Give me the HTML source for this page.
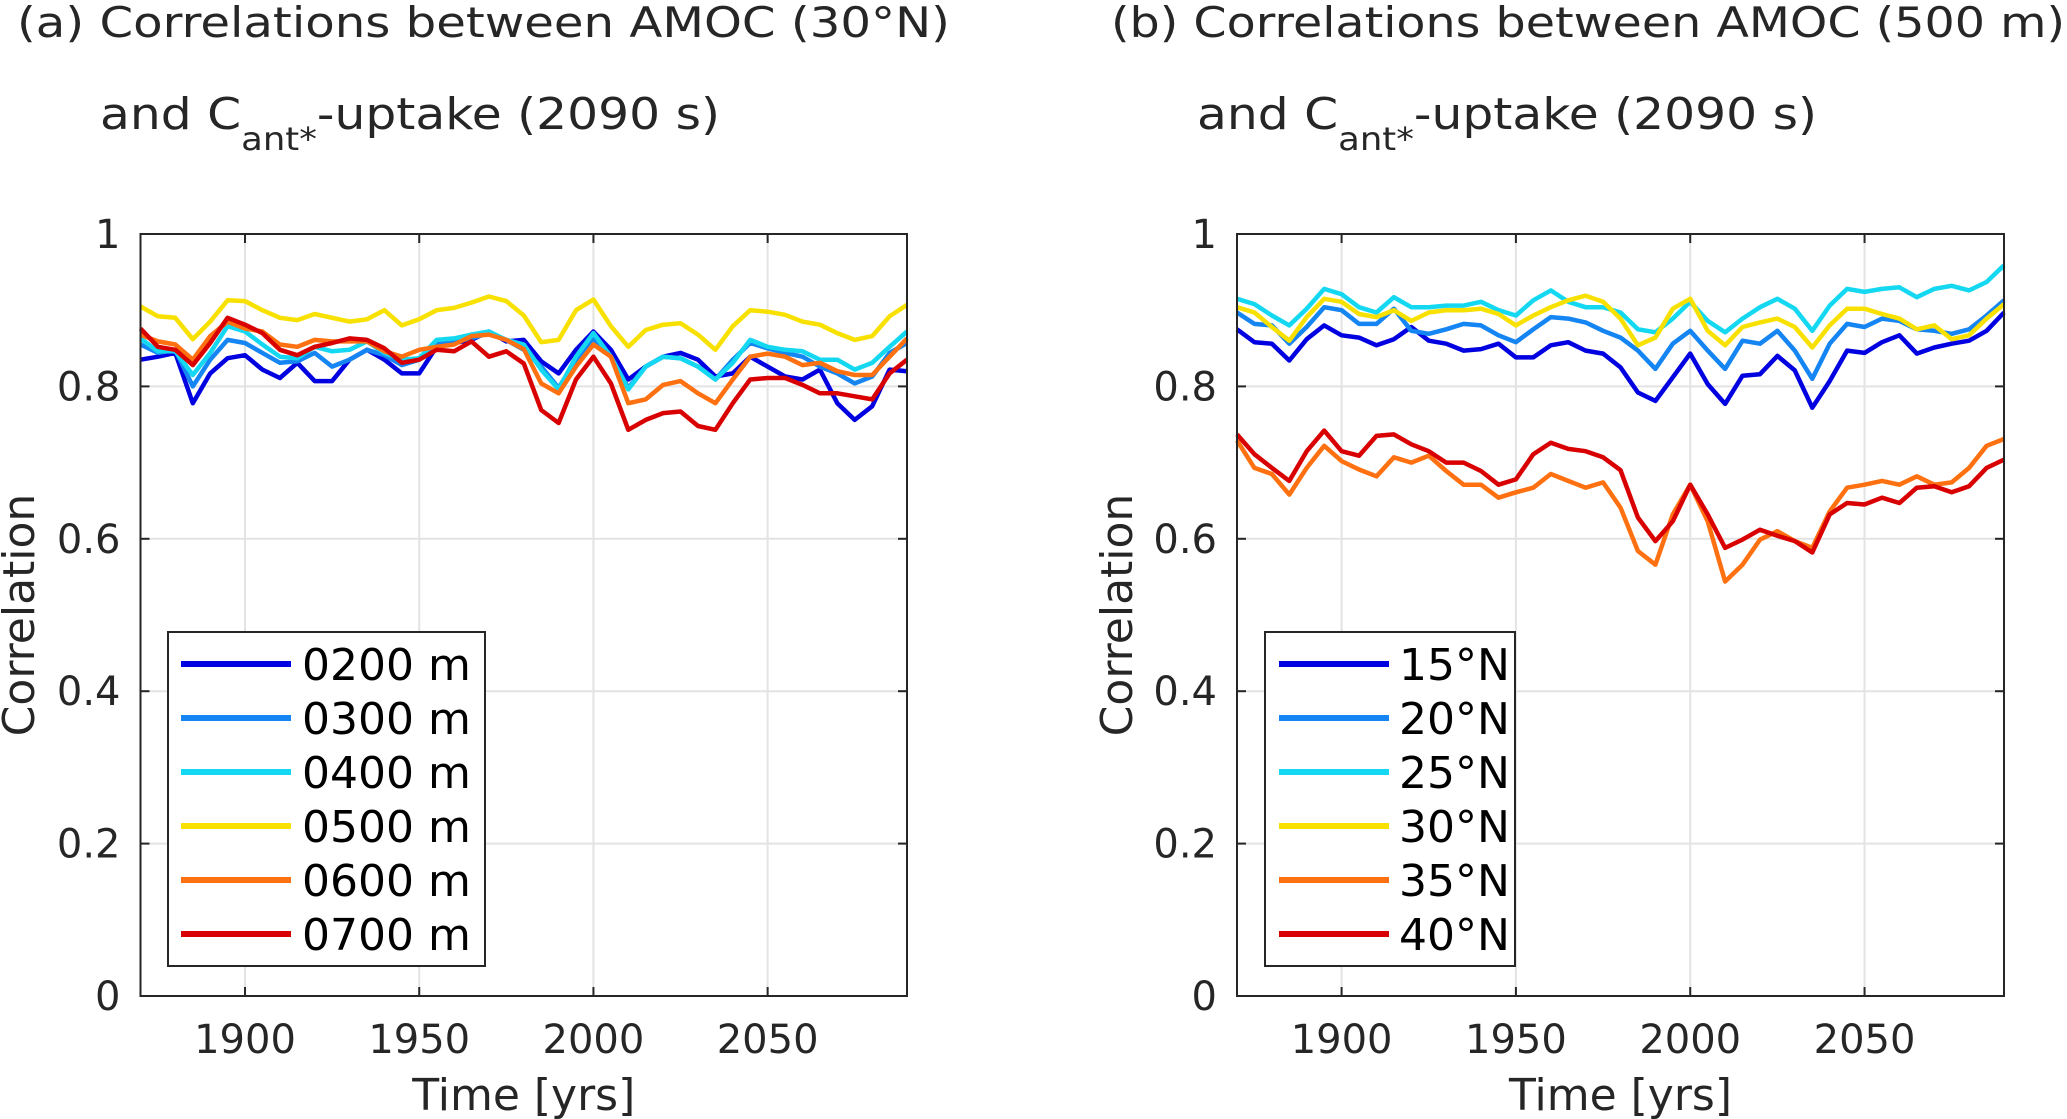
<!DOCTYPE html>
<html><head><meta charset="utf-8"><title>AMOC correlations</title>
<style>
html,body{margin:0;padding:0;background:#fff;}
svg{display:block;font-family:"DejaVu Sans","Liberation Sans",sans-serif;}
</style></head>
<body>
<svg id="fig" width="2067" height="1119" viewBox="0 0 2067 1119" xmlns="http://www.w3.org/2000/svg">
<rect width="2067" height="1119" fill="#fff"/>
<g fill="#262626" font-size="42">
<text x="17" y="37" textLength="933" lengthAdjust="spacingAndGlyphs">(a) Correlations between AMOC (30°N)</text>
<text x="100" y="129" font-size="44" textLength="620" lengthAdjust="spacingAndGlyphs">and C<tspan font-size="32" dy="21">ant*</tspan><tspan dy="-21">-uptake (2090 s)</tspan></text>
</g>
<g fill="#262626" font-size="42">
<text x="1111" y="37" textLength="954" lengthAdjust="spacingAndGlyphs">(b) Correlations between AMOC (500 m)</text>
<text x="1197" y="129" font-size="44" textLength="620" lengthAdjust="spacingAndGlyphs">and C<tspan font-size="32" dy="21">ant*</tspan><tspan dy="-21">-uptake (2090 s)</tspan></text>
</g>
<g id="panelA"></g>
<g id="panelB"></g>
</svg>
<script>
const years = [1870,1875,1880,1885,1890,1895,1900,1905,1910,1915,1920,1925,1930,1935,1940,1945,1950,1955,1960,1965,1970,1975,1980,1985,1990,1995,2000,2005,2010,2015,2020,2025,2030,2035,2040,2045,2050,2055,2060,2065,2070,2075,2080,2085,2090];
const xTicks = [1900,1950,2000,2050];
const yTicks = [0,0.2,0.4,0.6,0.8,1];
const yTickLabels = ["0","0.2","0.4","0.6","0.8","1"];
const colors = ["#0000e0","#1485f2","#14d8f2","#f8e000","#ff7010","#d80000"];
const labelsA = ["0200 m","0300 m","0400 m","0500 m","0600 m","0700 m"];
const labelsB = ["15°N","20°N","25°N","30°N","35°N","40°N"];
const a200 = [.835,.839,.844,.778,.817,.837,.841,.822,.811,.831,.807,.807,.835,.848,.835,.817,.817,.852,.857,.861,.872,.859,.861,.833,.817,.848,.872,.848,.809,.826,.839,.844,.835,.813,.817,.839,.826,.813,.809,.822,.778,.756,.774,.822,.820];
const a300 = [.855,.844,.848,.800,.835,.861,.857,.844,.831,.833,.844,.826,.835,.848,.841,.828,.835,.855,.859,.863,.870,.861,.848,.826,.798,.835,.863,.839,.798,.826,.839,.837,.826,.809,.835,.857,.850,.844,.839,.826,.817,.804,.813,.844,.857];
const a400 = [.863,.846,.846,.815,.844,.879,.872,.855,.839,.837,.852,.846,.848,.859,.844,.835,.837,.861,.863,.868,.872,.861,.855,.822,.796,.839,.870,.839,.796,.826,.839,.837,.826,.809,.831,.861,.852,.848,.846,.835,.835,.822,.831,.852,.872];
const a500 = [.905,.892,.890,.862,.885,.913,.912,.900,.890,.887,.895,.890,.885,.888,.900,.880,.888,.900,.903,.910,.918,.912,.893,.858,.861,.900,.914,.879,.852,.874,.881,.883,.868,.848,.879,.900,.898,.894,.885,.881,.870,.861,.866,.892,.907];
const a600 = [.868,.859,.855,.835,.866,.885,.876,.872,.855,.852,.861,.859,.859,.859,.846,.839,.848,.852,.855,.866,.868,.861,.849,.804,.791,.826,.855,.839,.778,.783,.802,.807,.791,.778,.809,.839,.843,.839,.828,.831,.820,.815,.815,.839,.863];
const a700 = [.876,.852,.848,.828,.857,.890,.881,.870,.848,.841,.852,.857,.863,.861,.850,.831,.835,.848,.846,.859,.839,.846,.830,.769,.752,.809,.839,.804,.743,.756,.765,.767,.748,.743,.778,.809,.811,.811,.802,.791,.791,.787,.783,.817,.835];
const b15 = [.875,.858,.856,.834,.862,.880,.867,.864,.854,.862,.878,.860,.856,.847,.849,.856,.838,.838,.854,.858,.847,.843,.825,.792,.781,.812,.843,.803,.777,.814,.816,.840,.821,.772,.807,.847,.844,.858,.867,.843,.851,.856,.860,.873,.897];
const b20 = [.897,.882,.880,.856,.878,.904,.900,.882,.882,.902,.873,.869,.875,.882,.880,.867,.858,.875,.891,.889,.884,.873,.864,.847,.823,.856,.873,.847,.823,.860,.856,.873,.847,.810,.856,.882,.878,.889,.886,.875,.873,.869,.875,.893,.913];
const b25 = [.915,.908,.893,.880,.902,.928,.921,.904,.897,.917,.904,.904,.906,.906,.911,.900,.893,.913,.926,.911,.904,.904,.897,.875,.871,.889,.911,.886,.871,.889,.904,.915,.902,.873,.906,.928,.924,.928,.930,.917,.928,.932,.926,.937,.959];
const b30 = [.904,.897,.878,.860,.891,.915,.911,.895,.891,.900,.886,.897,.900,.900,.902,.895,.880,.893,.904,.913,.919,.911,.889,.854,.864,.902,.915,.873,.854,.878,.884,.889,.878,.851,.880,.902,.902,.895,.889,.875,.880,.862,.867,.889,.908];
const b35 = [.729,.693,.685,.658,.693,.722,.702,.691,.682,.707,.700,.709,.689,.671,.671,.654,.661,.667,.685,.676,.667,.674,.641,.584,.566,.632,.671,.623,.544,.566,.599,.610,.597,.588,.636,.667,.671,.676,.671,.682,.671,.674,.693,.722,.731];
const b40 = [.737,.711,.693,.676,.715,.742,.715,.709,.735,.737,.724,.715,.700,.700,.689,.671,.678,.711,.726,.718,.715,.707,.690,.628,.597,.623,.671,.632,.588,.599,.612,.604,.597,.582,.632,.647,.645,.654,.647,.667,.669,.661,.669,.693,.704];

const NS = "http://www.w3.org/2000/svg";
function mk(tag, attrs, parent){ const e=document.createElementNS(NS,tag); for(const k in attrs) e.setAttribute(k,attrs[k]); parent.appendChild(e); return e; }

function drawPanel(g, L, R, T, B, series, labels, leg, yLabX){
  const x = yr => L + (yr-1870)/(2090-1870)*(R-L);
  const y = v => B - v*(B-T);
  xTicks.forEach(t=>{
    const gl = mk('line',{x1:x(t),x2:x(t),y1:T,y2:B,stroke:'#e3e3e3','stroke-width':2},g);
    
    
  });
  yTicks.forEach(t=>{
    const gl = mk('line',{x1:L,x2:R,y1:y(t),y2:y(t),stroke:'#e3e3e3','stroke-width':2},g);
    
    
  });
  series.forEach((s,i)=>{
    const d = s.map((v,j)=>(j?'L':'M')+x(years[j]).toFixed(1)+' '+y(v).toFixed(1)).join(' ');
    const p = mk('path',{d:d,fill:'none',stroke:colors[i],'stroke-width':4.5,'stroke-linejoin':'round'},g);
    
    
  });
  const box = mk('rect',{x:L,y:T,width:R-L,height:B-T,fill:'none',stroke:'#262626','stroke-width':2},g);
  
  
  xTicks.forEach(t=>{
    mk('line',{x1:x(t),x2:x(t),y1:B,y2:B-9,stroke:'#262626','stroke-width':2},g);
    mk('line',{x1:x(t),x2:x(t),y1:T,y2:T+9,stroke:'#262626','stroke-width':2},g);
    const tl = mk('text',{x:x(t),y:1053,'text-anchor':'middle','font-size':40,fill:'#262626'},g);
    tl.textContent = t;
    
    
  });
  yTicks.forEach((t,i)=>{
    mk('line',{x1:L,x2:L+9,y1:y(t),y2:y(t),stroke:'#262626','stroke-width':2},g);
    mk('line',{x1:R,x2:R-9,y1:y(t),y2:y(t),stroke:'#262626','stroke-width':2},g);
    const tl = mk('text',{x:L-20,y:y(t)+14,'text-anchor':'end','font-size':40,fill:'#262626'},g);
    tl.textContent = yTickLabels[i];
    
    
  });
  const xl = mk('text',{x:(L+R)/2,y:1110,'text-anchor':'middle','font-size':44,fill:'#262626'},g);
  xl.textContent = 'Time [yrs]';
  
  
  const yl = mk('text',{x:0,y:0,'text-anchor':'middle','font-size':44,fill:'#262626',transform:'translate('+yLabX+',615) rotate(-90)'},g);
  yl.textContent = 'Correlation';
  
  
  const lg = mk('g',{},g);
  
  
  mk('rect',{x:leg.x0,y:632,width:leg.x1-leg.x0,height:334,fill:'#fff',stroke:'#262626','stroke-width':2},lg);
  labels.forEach((lab,i)=>{
    const ey = 664 + i*54;
    const en = mk('g',{},lg);
    
    
    mk('line',{x1:leg.l0,x2:leg.l1,y1:ey,y2:ey,stroke:colors[i],'stroke-width':6},en);
    const t = mk('text',{x:leg.t,y:ey+16,'font-size':44,fill:'#000'},en);
    t.textContent = lab;
  });
}
drawPanel(document.getElementById('panelA'),140.5,907,234,996,[a200,a300,a400,a500,a600,a700],labelsA,{x0:168,x1:485,l0:181,l1:291,t:302},34);
drawPanel(document.getElementById('panelB'),1237,2004,234,996,[b15,b20,b25,b30,b35,b40],labelsB,{x0:1265,x1:1515,l0:1279,l1:1389,t:1399},1132);
</script>
</body></html>
